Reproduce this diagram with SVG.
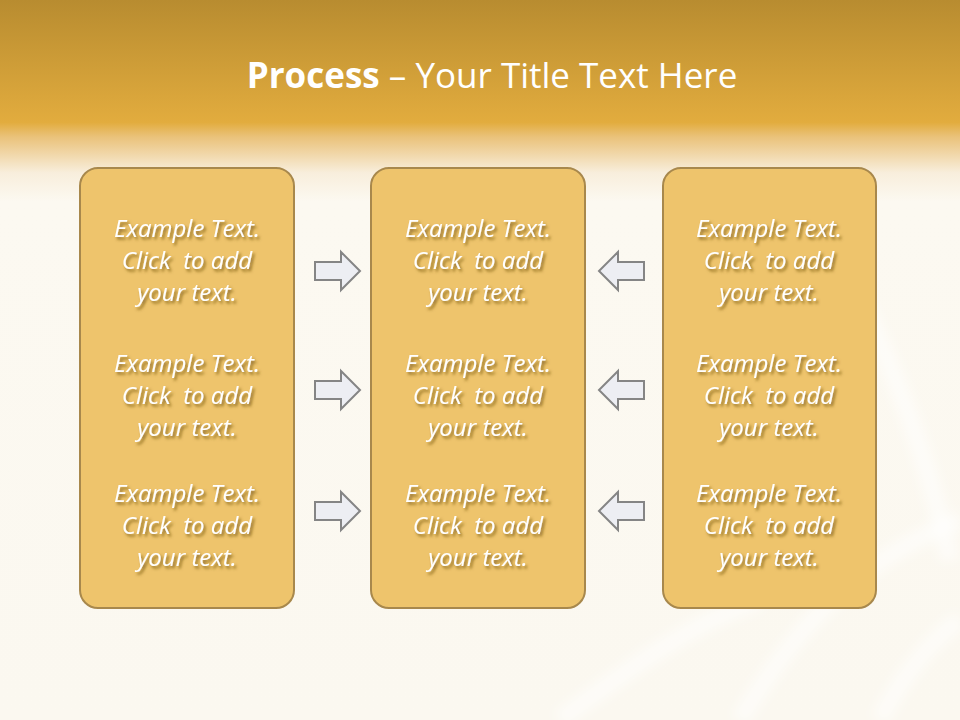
<svg xmlns="http://www.w3.org/2000/svg" width="960" height="720" viewBox="0 0 960 720">
<defs>
<linearGradient id="bg" x1="0" y1="0" x2="0" y2="1">
<stop offset="0" stop-color="#B88C30"/>
<stop offset="0.17" stop-color="#E2AC3E"/>
<stop offset="0.19" stop-color="#EAC27A"/>
<stop offset="0.24" stop-color="#F8EEDC"/>
<stop offset="0.28" stop-color="#FCF9F1"/>
<stop offset="1" stop-color="#FBF8F0"/>
</linearGradient>
<filter id="sh" x="-20%" y="-30%" width="140%" height="160%">
<feDropShadow dx="2" dy="2.5" stdDeviation="1.6" flood-color="#6B4E10" flood-opacity="0.75"/>
</filter>
<filter id="blur"><feGaussianBlur stdDeviation="6"/></filter>
<style>
.box{fill:#EEC46C;stroke:#A8884C;stroke-width:2}
.t{font-family:"Open Sans","Noto Sans",sans-serif;font-style:italic;font-size:24px;fill:#FFFFFF;text-anchor:middle;filter:url(#sh)}
.ar{fill:#EDEEF3;stroke:#858585;stroke-width:2}
.title{font-family:"Open Sans","Noto Sans",sans-serif;font-size:35px;fill:#FFFFFF;text-anchor:middle}
</style>
</defs>
<rect width="960" height="720" fill="url(#bg)"/>
<g fill="none" stroke="#FFFFFF" stroke-opacity="0.55" stroke-width="18" filter="url(#blur)">
<path d="M860 300 C900 380 930 470 950 560"/>
<path d="M740 720 C800 620 860 560 960 520"/>
<path d="M560 720 C640 660 700 620 760 600"/>
<path d="M880 720 C900 680 930 640 960 620"/>
</g>
<text class="title" x="492" y="88"><tspan font-weight="bold">Process</tspan> – Your Title Text Here</text>
<g id="box1">
<rect class="box" x="80" y="168" width="214" height="440" rx="18"/>
<text class="t" x="187" xml:space="preserve"><tspan x="187" y="237">Example Text.</tspan><tspan x="187" y="269">Click  to add</tspan><tspan x="187" y="301">your text.</tspan></text>
<text class="t" x="187" xml:space="preserve"><tspan x="187" y="372">Example Text.</tspan><tspan x="187" y="404">Click  to add</tspan><tspan x="187" y="436">your text.</tspan></text>
<text class="t" x="187" xml:space="preserve"><tspan x="187" y="502">Example Text.</tspan><tspan x="187" y="534">Click  to add</tspan><tspan x="187" y="566">your text.</tspan></text>
</g>
<g id="box2">
<rect class="box" x="371" y="168" width="214" height="440" rx="18"/>
<text class="t" x="478" xml:space="preserve"><tspan x="478" y="237">Example Text.</tspan><tspan x="478" y="269">Click  to add</tspan><tspan x="478" y="301">your text.</tspan></text>
<text class="t" x="478" xml:space="preserve"><tspan x="478" y="372">Example Text.</tspan><tspan x="478" y="404">Click  to add</tspan><tspan x="478" y="436">your text.</tspan></text>
<text class="t" x="478" xml:space="preserve"><tspan x="478" y="502">Example Text.</tspan><tspan x="478" y="534">Click  to add</tspan><tspan x="478" y="566">your text.</tspan></text>
</g>
<g id="box3">
<rect class="box" x="663" y="168" width="213" height="440" rx="18"/>
<text class="t" x="769" xml:space="preserve"><tspan x="769" y="237">Example Text.</tspan><tspan x="769" y="269">Click  to add</tspan><tspan x="769" y="301">your text.</tspan></text>
<text class="t" x="769" xml:space="preserve"><tspan x="769" y="372">Example Text.</tspan><tspan x="769" y="404">Click  to add</tspan><tspan x="769" y="436">your text.</tspan></text>
<text class="t" x="769" xml:space="preserve"><tspan x="769" y="502">Example Text.</tspan><tspan x="769" y="534">Click  to add</tspan><tspan x="769" y="566">your text.</tspan></text>
</g>
<g id="connectors">
<path class="ar" d="M315 262 H341 V252 L360 271 L341 290 V280 H315 Z"/>
<path class="ar" d="M315 381 H341 V371 L360 390 L341 409 V399 H315 Z"/>
<path class="ar" d="M315 502 H341 V492 L360 511 L341 530 V520 H315 Z"/>
<path class="ar" d="M644 262 H618 V252 L599 271 L618 290 V280 H644 Z"/>
<path class="ar" d="M644 381 H618 V371 L599 390 L618 409 V399 H644 Z"/>
<path class="ar" d="M644 502 H618 V492 L599 511 L618 530 V520 H644 Z"/>
</g>
</svg>
